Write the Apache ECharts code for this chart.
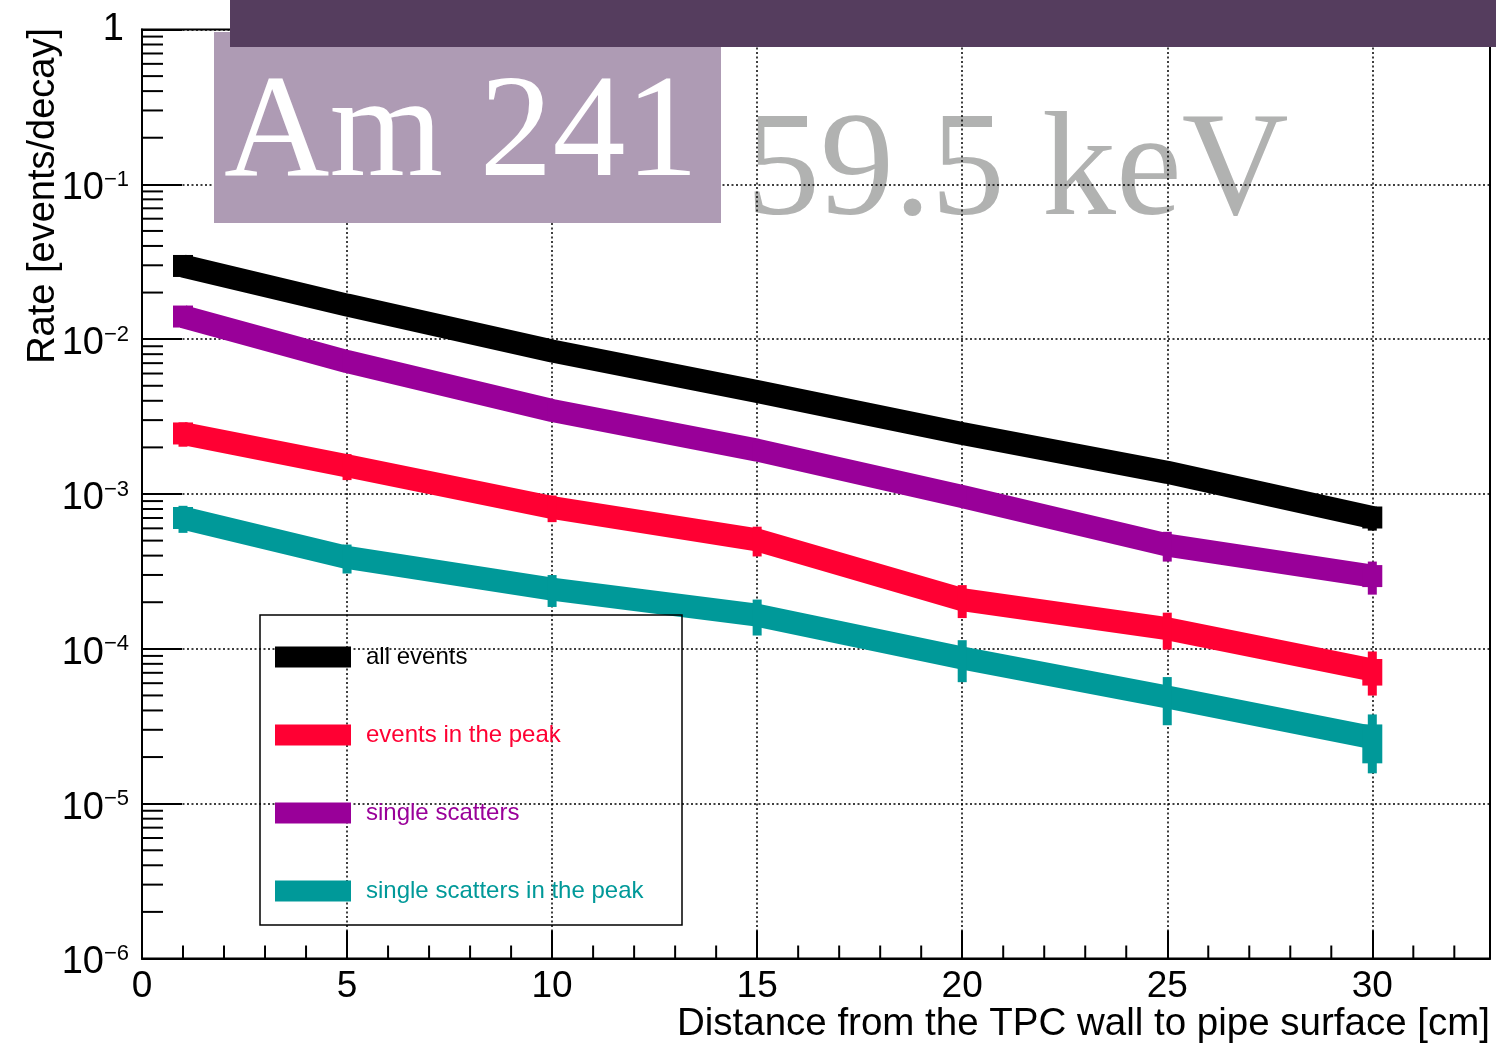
<!DOCTYPE html>
<html><head><meta charset="utf-8">
<script src="https://cdn.jsdelivr.net/npm/echarts@6/dist/echarts.min.js"></script>
<style>html,body{margin:0;padding:0;background:#fff}#c{width:1496px;height:1051px}</style>
</head><body><div id="c"></div>
<script>
// ---- data ----
const distances = [1, 5, 10, 15, 20, 25, 30];
const allEvents      = [0.0297, 0.0166, 0.00839, 0.00459, 0.00246, 0.00138, 0.000705];
const allEventsErr   = [0.0036, 0.0020, 0.0010, 0.00055, 0.0003, 0.000165, 0.000125];
const peakEvents     = [0.00246, 0.00152, 0.000818, 0.000505, 0.000208, 0.000135, 0.0000730];
const peakEventsErr  = [0.00044, 0.00029, 0.00016, 0.00011, 0.00005, 0.0000362, 0.0000231];
const singleScat     = [0.0140, 0.00717, 0.00346, 0.00192, 0.000963, 0.000468, 0.000295];
const singleScatErr  = [0.0020, 0.0010, 0.00048, 0.00027, 0.000135, 0.000102, 0.0000711];
const singlePeak     = [0.000700, 0.000389, 0.000243, 0.000165, 0.0000873, 0.0000489, 0.0000267];
const singlePeakErr  = [0.000139, 0.0000825, 0.0000566, 0.0000431, 0.0000264, 0.0000168, 0.0000110];
const seriesNames  = ['all events', 'events in the peak', 'single scatters', 'single scatters in the peak'];
const seriesColors = ['#000000', '#ff0033', '#990099', '#009999'];
const xTickLabels = ['0', '5', '10', '15', '20', '25', '30'];
const xMinorTicks = [1,2,3,4,6,7,8,9,11,12,13,14,16,17,18,19,21,22,23,24,26,27,28,29,31,32];
const yDecades = [-6, -5, -4, -3, -2, -1];
const yMinorMultipliers = [2,3,4,5,6,7,8,9];
const xTitle = 'Distance from the TPC wall to pipe surface [cm]';
const yTitle = 'Rate [events/decay]';

const values = [allEvents, peakEvents, singleScat, singlePeak];
const errors = [allEventsErr, peakEventsErr, singleScatErr, singlePeakErr];

const FONT = '"Liberation Sans", Arial, Helvetica, sans-serif';
const SERIF = '"Liberation Serif", "Times New Roman", serif';

const yMinorTicks = [];
yDecades.forEach(k => yMinorMultipliers.forEach(m => yMinorTicks.push(m * Math.pow(10, k))));

const series = [];
values.forEach((vals, s) => {
  series.push({
    name: seriesNames[s], type: 'line', z: 3,
    data: distances.map((d, i) => [d, vals[i]]),
    symbol: 'none', silent: true,
    lineStyle: { color: seriesColors[s], width: 23, cap: 'butt', join: 'bevel' },
    itemStyle: { color: seriesColors[s] }
  });
});
values.forEach((vals, s) => {
  const last = distances.length - 1;
  series.push({
    name: seriesNames[s] + ' errors', type: 'custom', z: 4, silent: true,
    encode: { x: 0, y: 1 },
    data: distances.map((d, i) => [d, vals[i], errors[s][i], (i === 0 || i === last) ? 1 : 0]),
    renderItem: function (params, api) {
      const x = api.value(0), v = api.value(1), e = api.value(2), isEnd = api.value(3);
      const p = api.coord([x, v]);
      const top = api.coord([x, v + e])[1];
      const bot = api.coord([x, v - e])[1];
      const children = [{
        type: 'rect', shape: { x: p[0] - 4.5, y: top, width: 9, height: bot - top },
        style: { fill: seriesColors[s] }
      }];
      if (isEnd) {
        const t = Math.min(top + 10, p[1] - 11);
        const b = Math.max(bot - 10, p[1] + 11);
        children.push({ type: 'rect', shape: { x: p[0] - 10, y: t, width: 20, height: b - t }, style: { fill: seriesColors[s] } });
      }
      return { type: 'group', children: children };
    }
  });
});
// minor ticks (ROOT style)
series.push({
  type: 'custom', name: 'x minor ticks', z: 5, silent: true, encode: { x: 0, y: 1 },
  data: xMinorTicks.map(v => [v, 1e-6]),
  renderItem: function (params, api) {
    const p = api.coord([api.value(0), api.value(1)]);
    return { type: 'line', shape: { x1: p[0], y1: p[1], x2: p[0], y2: p[1] - 13 }, style: { stroke: '#000', lineWidth: 2 } };
  }
});
series.push({
  type: 'custom', name: 'y minor ticks', z: 5, silent: true, encode: { x: 0, y: 1 },
  data: yMinorTicks.map(v => [0, v]),
  renderItem: function (params, api) {
    const p = api.coord([api.value(0), api.value(1)]);
    return { type: 'line', shape: { x1: p[0], y1: p[1], x2: p[0] + 21, y2: p[1] }, style: { stroke: '#000', lineWidth: 2 } };
  }
});

const chart = echarts.init(document.getElementById('c'), null, { renderer: 'canvas' });
chart.setOption({
  animation: false,
  backgroundColor: '#ffffff',
  grid: { left: 142, right: 6, top: 29.5, bottom: 92.5, containLabel: false, outerBoundsMode: 'none',
          show: true, borderColor: '#000', borderWidth: 2, backgroundColor: 'transparent' },
  xAxis: {
    type: 'value', min: 0, max: 32.87, interval: 5,
    axisLine: { lineStyle: { color: '#000', width: 2 } },
    axisTick: { inside: true, length: 28, lineStyle: { color: '#000', width: 2 } },
    axisLabel: {
      fontFamily: FONT, fontSize: 37, color: '#000', margin: 10, lineHeight: 37, showMaxLabel: false,
      formatter: v => { const i = Math.round(v / 5); return (Math.abs(v - i * 5) < 1e-9 && xTickLabels[i] !== undefined) ? xTickLabels[i] : ''; }
    },
    splitLine: { show: true, lineStyle: { color: '#000', width: 1.5, type: [2, 2.5] } }
  },
  yAxis: {
    type: 'log', logBase: 10, min: 1e-6, max: 1,
    axisLine: { lineStyle: { color: '#000', width: 2 } },
    axisTick: { inside: true, length: 40, lineStyle: { color: '#000', width: 2 } },
    axisLabel: {
      fontFamily: FONT, color: '#000', margin: 13, padding: [9, 0, 0, 0],
      formatter: v => {
        const k = Math.round(Math.log10(v));
        if (k === 0) return '{one|1}';
        return '{b|10}{s|\u2212' + (-k) + '}';
      },
      rich: {
        b: { fontFamily: FONT, fontSize: 38, lineHeight: 40, color: '#000' },
        s: { fontFamily: FONT, fontSize: 22, lineHeight: 19, verticalAlign: 'top', color: '#000' },
        one: { fontFamily: FONT, fontSize: 38, lineHeight: 31, padding: [0, 5, 9, 0], color: '#000' }
      }
    },
    splitLine: { show: true, lineStyle: { color: '#000', width: 1.5, type: [2, 2.5] } }
  },
  legend: {
    show: true, orient: 'vertical', left: 270, top: 640, itemWidth: 76, itemHeight: 21, itemGap: 54,
    icon: 'rect', selectedMode: false,
    textStyle: { fontFamily: FONT, fontSize: 24, lineHeight: 21, padding: [0, 0, 0, 10] },
    data: seriesNames.map((n, i) => ({ name: n, textStyle: { color: seriesColors[i] } }))
  },
  graphic: [
    { type: 'rect', z: 100, shape: { x: 260, y: 615, width: 422, height: 310 }, style: { fill: 'none', stroke: '#000', lineWidth: 1.5 } },
    { type: 'text', z: -1, style: { text: '59.5 keV', x: 746, y: 175, font: '148px ' + SERIF, fill: '#b1b2b1', textAlign: 'left', textVerticalAlign: 'middle' } },
    { type: 'rect', z: 100, shape: { x: 214, y: 32, width: 507, height: 191 }, style: { fill: '#ae9bb4' } },
    { type: 'rect', z: 101, shape: { x: 230, y: 0, width: 1266, height: 47 }, style: { fill: '#553d5e' } },
    { type: 'text', z: 102, style: { text: 'Am 241', x: 224, y: 137, font: '146px ' + SERIF, fill: '#ffffff', textAlign: 'left', textVerticalAlign: 'middle' } },
    { type: 'text', z: 10, rotation: Math.PI / 2, x: 44, y: 28, style: { text: yTitle, font: '38px ' + FONT, fill: '#000', textAlign: 'right', textVerticalAlign: 'middle' } },
    { type: 'text', z: 10, style: { text: xTitle, x: 1490, y: 1024, font: '38.5px ' + FONT, fill: '#000', textAlign: 'right', textVerticalAlign: 'middle' } }
  ],
  series: series
});
</script></body></html>
